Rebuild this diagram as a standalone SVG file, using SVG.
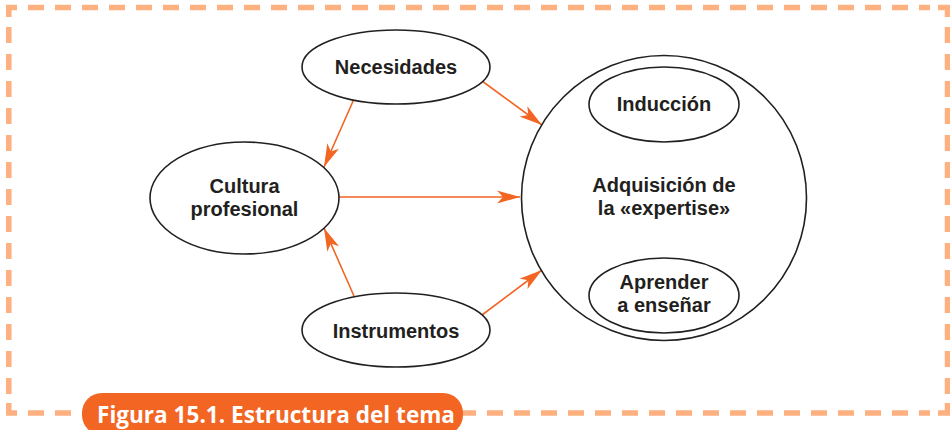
<svg xmlns="http://www.w3.org/2000/svg" width="950" height="430" viewBox="0 0 950 430">
<style>
.frame{fill:none;stroke:#fdb080;stroke-width:5.5}
.dash{stroke-dasharray:16 11}
.node{fill:#fff;stroke:#231f20;stroke-width:1.6}
.lbl{font-family:"Liberation Sans",Arial,sans-serif;font-weight:700;font-size:20px;fill:#231f20;text-anchor:middle}
.edge{stroke:#f26522;stroke-width:1.6;fill:none}
.cap{font-family:"Open Sans","Liberation Sans",sans-serif;font-weight:700;font-size:23px;fill:#fff}
</style>
<defs>
<marker id="arr" markerUnits="userSpaceOnUse" markerWidth="24" markerHeight="14" refX="23" refY="7" orient="auto" viewBox="0 0 24 14">
<path d="M0,0.5 L23,7 L0,13.5 L6,7 Z" fill="#f26522"/>
</marker>
</defs>
<rect width="950" height="430" fill="#fff"/>
<g id="frame">
<path class="frame" d="M8.8,17 V7.5 H17"/>
<path class="frame" d="M938,7.5 H947.5 V17"/>
<path class="frame" d="M947.5,403 V413 H938"/>
<path class="frame" d="M17,413 H8.8 V403"/>
<line class="frame dash" x1="28" y1="7.5" x2="930" y2="7.5"/>
<line class="frame dash" x1="8.8" y1="27" x2="8.8" y2="396"/>
<line class="frame dash" x1="947.5" y1="27" x2="947.5" y2="396"/>
<line class="frame dash" x1="28" y1="413" x2="930" y2="413"/>
</g>
<g id="connectors">
<line class="edge" x1="354" y1="99" x2="324" y2="167" marker-end="url(#arr)"/>
<line class="edge" x1="482" y1="81" x2="542" y2="125" marker-end="url(#arr)"/>
<line class="edge" x1="339" y1="197" x2="520" y2="197" marker-end="url(#arr)"/>
<line class="edge" x1="354" y1="296" x2="324" y2="228" marker-end="url(#arr)"/>
<line class="edge" x1="482" y1="315" x2="542" y2="270" marker-end="url(#arr)"/>
</g>
<g id="necesidades">
<ellipse class="node" cx="396" cy="67" rx="94" ry="37"/>
<text class="lbl" x="396" y="74">Necesidades</text>
</g>
<g id="cultura">
<ellipse class="node" cx="244.5" cy="198" rx="94.5" ry="56"/>
<text class="lbl" x="244.5" y="193">Cultura</text>
<text class="lbl" x="244.5" y="216">profesional</text>
</g>
<g id="instrumentos">
<ellipse class="node" cx="396" cy="330" rx="94" ry="37"/>
<text class="lbl" x="396" y="338">Instrumentos</text>
</g>
<g id="adquisicion">
<circle class="node" cx="664" cy="198" r="142.5"/>
<text class="lbl" x="664" y="192">Adquisición de</text>
<text class="lbl" x="664" y="215">la «expertise»</text>
</g>
<g id="induccion">
<ellipse class="node" cx="664" cy="104.5" rx="75" ry="37.5"/>
<text class="lbl" x="664" y="111">Inducción</text>
</g>
<g id="aprender">
<ellipse class="node" cx="664" cy="295.5" rx="75" ry="37.5"/>
<text class="lbl" x="664" y="289">Aprender</text>
<text class="lbl" x="664" y="312">a enseñar</text>
</g>
<g id="caption">
<rect x="82" y="393" width="381" height="42" rx="20" fill="#f26522"/>
<text class="cap" x="97" y="423" textLength="358" lengthAdjust="spacingAndGlyphs">Figura 15.1. Estructura del tema</text>
</g>
</svg>
